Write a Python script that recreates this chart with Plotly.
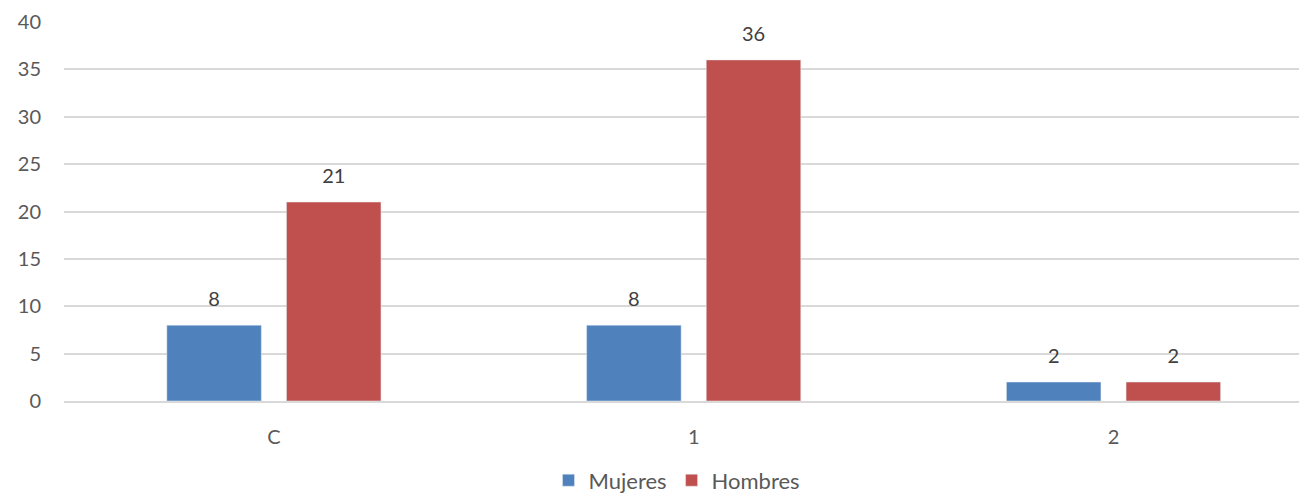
import plotly.graph_objects as go

categories = ["C", "1", "2"]
mujeres = [8, 8, 2]
hombres = [21, 36, 2]
y_ticks = [0, 5, 10, 15, 20, 25, 30, 35, 40]

FONT = "Lato"
TXT = "#595959"


def label(v):
    return f"<span style='font-size:20px'>{v}</span><br> "


fig = go.Figure()
fig.add_trace(go.Bar(
    name="Mujeres", x=categories, y=mujeres, marker_color="#4F81BD",
    text=[label(v) for v in mujeres], textposition="outside",
    textfont=dict(family=FONT, size=11, color="#404040"), cliponaxis=False,
))
fig.add_trace(go.Bar(
    name="Hombres", x=categories, y=hombres, marker_color="#C0504D",
    text=[label(v) for v in hombres], textposition="outside",
    textfont=dict(family=FONT, size=11, color="#404040"), cliponaxis=False,
))

fig.update_layout(
    width=1307, height=485,
    margin=dict(l=56, r=0, t=14, b=92),
    paper_bgcolor="white", plot_bgcolor="white",
    barmode="group", bargap=0.43, bargroupgap=0.21,
    font=dict(family=FONT, size=20, color=TXT),
    showlegend=True,
    legend=dict(orientation="h", x=0.49, xanchor="center", y=0.026, yref="container",
                yanchor="middle", font=dict(family=FONT, size=22, color=TXT),
                itemwidth=30, traceorder="normal"),
)
fig.update_yaxes(range=[0, 40], tickvals=y_ticks, showgrid=True, gridcolor="#D9D9D9",
                 gridwidth=1.5, zeroline=False, showline=False, ticks="",
                 ticklabelstandoff=22, tickfont=dict(family=FONT, size=20, color=TXT))
fig.update_xaxes(range=[-0.5, 2.48], showline=True, linecolor="#D9D9D9", linewidth=1.5,
                 ticks="", ticklabelstandoff=17, tickfont=dict(family=FONT, size=20, color=TXT))

fig.write_html("out.html")
